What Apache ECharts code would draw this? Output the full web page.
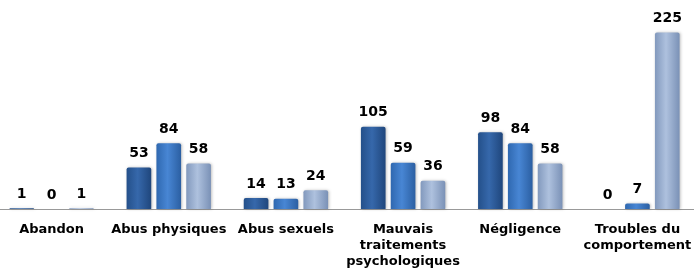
<!DOCTYPE html>
<html><head><meta charset="utf-8">
<script src="https://cdn.jsdelivr.net/npm/echarts@6/dist/echarts.min.js"></script>
<style>html,body{margin:0;padding:0;background:#fff}#c{width:694px;height:268px}</style>
</head><body><div id="c"></div>
<script>
const categories = ['Abandon', 'Abus physiques', 'Abus sexuels', 'Mauvais\ntraitements\npsychologiques', 'Négligence', 'Troubles du\ncomportement'];
const series1 = [1, 53, 14, 105, 98, 0];
const series2 = [0, 84, 13, 59, 84, 7];
const series3 = [1, 58, 24, 36, 58, 225];

function grad(a, b, c) {
  return new echarts.graphic.LinearGradient(0, 0, 1, 0, [
    {offset: 0, color: a}, {offset: 0.45, color: b}, {offset: 1, color: c}
  ]);
}
const colors = [
  grad('#24508a', '#3668ab', '#1f467c'),
  grad('#2f68b0', '#4886d4', '#2b5fa2'),
  grad('#8299bd', '#aec1de', '#7a91b6')
];
const lbl = {show: true, position: 'top', distance: 7, color: '#000', fontFamily: 'DejaVu Sans', fontWeight: 'bold', fontSize: 14,
  formatter: p => p.value};
const chart = echarts.init(document.getElementById('c'));
chart.setOption({
  animation: false,
  grid: {left: -7, right: -2, top: 13, bottom: 59, outerBoundsMode: 'none', containLabel: false},
  xAxis: {type: 'category', data: categories,
    axisLine: {lineStyle: {color: '#999', width: 1}}, axisTick: {show: false},
    axisLabel: {color: '#000', fontFamily: 'DejaVu Sans', fontWeight: 'bold', fontSize: 13, margin: 13, lineHeight: 16, interval: 0}},
  yAxis: {type: 'value', min: 0, max: 250, show: false, splitLine: {show: false}},
  series: [series1, series2, series3].map((d, i) => ({
    type: 'bar', data: d, barGap: '21%', barCategoryGap: '28%',
    itemStyle: {color: colors[i], borderRadius: [2, 2, 0, 0], shadowBlur: 3, shadowColor: 'rgba(0,0,0,0.25)', shadowOffsetX: 1},
    label: lbl
  }))
});
</script></body></html>
